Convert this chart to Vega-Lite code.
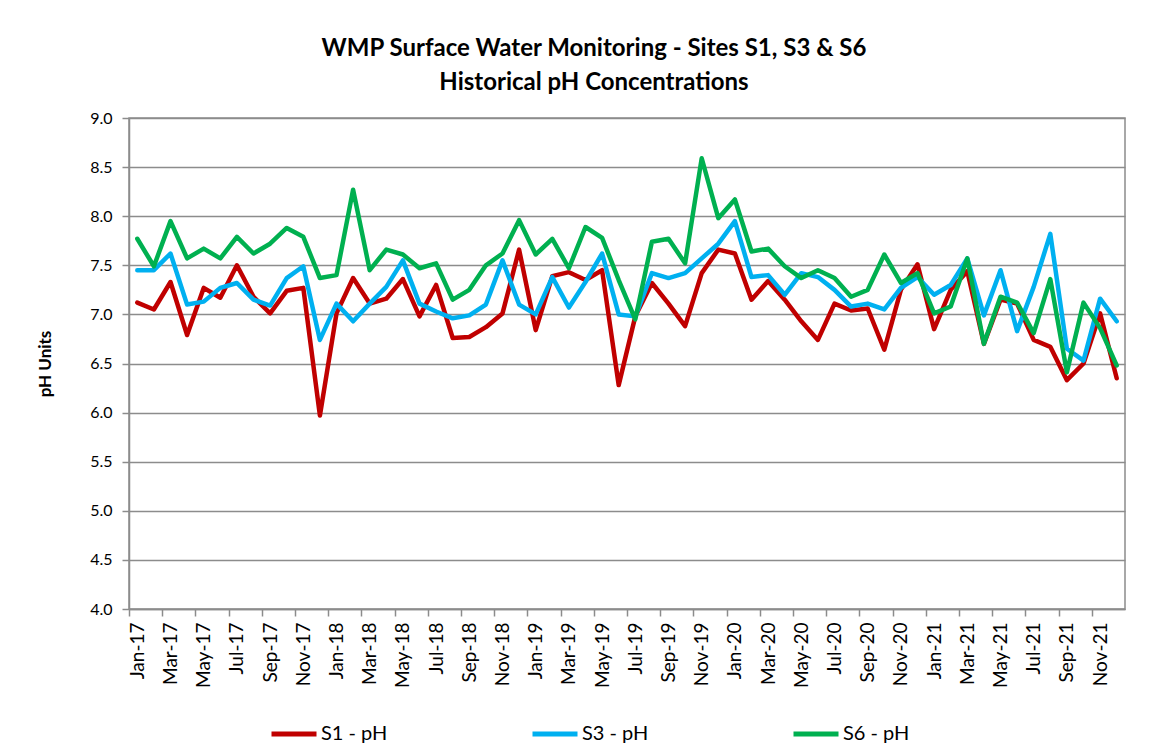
{
  "$schema": "https://vega.github.io/schema/vega-lite/v6.json",
  "autosize": "none",
  "width": 996,
  "height": 491,
  "padding": {"left": 129, "top": 118, "right": 51, "bottom": 144},
  "background": "white",
  "title": {
    "text": ["WMP Surface Water Monitoring - Sites S1, S3 & S6", "Historical pH Concentrations"],
    "font": "Lato", "fontSize": 24, "fontWeight": "bold", "color": "black",
    "anchor": "middle", "dx": -33, "offset": 15, "lineHeight": 34
  },
  "data": {"values": [
    {"m": "Jan-17", "S1": 7.12, "S3": 7.45, "S6": 7.77},
    {"m": "Feb-17", "S1": 7.05, "S3": 7.45, "S6": 7.49},
    {"m": "Mar-17", "S1": 7.33, "S3": 7.62, "S6": 7.95},
    {"m": "Apr-17", "S1": 6.79, "S3": 7.10, "S6": 7.57},
    {"m": "May-17", "S1": 7.27, "S3": 7.13, "S6": 7.67},
    {"m": "Jun-17", "S1": 7.17, "S3": 7.27, "S6": 7.57},
    {"m": "Jul-17", "S1": 7.50, "S3": 7.32, "S6": 7.79},
    {"m": "Aug-17", "S1": 7.18, "S3": 7.15, "S6": 7.62},
    {"m": "Sep-17", "S1": 7.01, "S3": 7.09, "S6": 7.72},
    {"m": "Oct-17", "S1": 7.24, "S3": 7.37, "S6": 7.88},
    {"m": "Nov-17", "S1": 7.27, "S3": 7.49, "S6": 7.79},
    {"m": "Dec-17", "S1": 5.97, "S3": 6.74, "S6": 7.37},
    {"m": "Jan-18", "S1": 7.01, "S3": 7.11, "S6": 7.40},
    {"m": "Feb-18", "S1": 7.37, "S3": 6.93, "S6": 8.27},
    {"m": "Mar-18", "S1": 7.11, "S3": 7.11, "S6": 7.45},
    {"m": "Apr-18", "S1": 7.16, "S3": 7.28, "S6": 7.66},
    {"m": "May-18", "S1": 7.36, "S3": 7.55, "S6": 7.61},
    {"m": "Jun-18", "S1": 6.98, "S3": 7.11, "S6": 7.47},
    {"m": "Jul-18", "S1": 7.30, "S3": 7.03, "S6": 7.52},
    {"m": "Aug-18", "S1": 6.76, "S3": 6.96, "S6": 7.15},
    {"m": "Sep-18", "S1": 6.77, "S3": 6.99, "S6": 7.25},
    {"m": "Oct-18", "S1": 6.87, "S3": 7.10, "S6": 7.50},
    {"m": "Nov-18", "S1": 7.01, "S3": 7.55, "S6": 7.62},
    {"m": "Dec-18", "S1": 7.66, "S3": 7.10, "S6": 7.96},
    {"m": "Jan-19", "S1": 6.84, "S3": 7.00, "S6": 7.61},
    {"m": "Feb-19", "S1": 7.39, "S3": 7.38, "S6": 7.77},
    {"m": "Mar-19", "S1": 7.43, "S3": 7.07, "S6": 7.47},
    {"m": "Apr-19", "S1": 7.35, "S3": 7.33, "S6": 7.89},
    {"m": "May-19", "S1": 7.45, "S3": 7.62, "S6": 7.78},
    {"m": "Jun-19", "S1": 6.28, "S3": 7.00, "S6": 7.35},
    {"m": "Jul-19", "S1": 6.98, "S3": 6.98, "S6": 6.95},
    {"m": "Aug-19", "S1": 7.32, "S3": 7.42, "S6": 7.74},
    {"m": "Sep-19", "S1": 7.11, "S3": 7.37, "S6": 7.77},
    {"m": "Oct-19", "S1": 6.88, "S3": 7.42, "S6": 7.52},
    {"m": "Nov-19", "S1": 7.42, "S3": 7.57, "S6": 8.59},
    {"m": "Dec-19", "S1": 7.66, "S3": 7.72, "S6": 7.98},
    {"m": "Jan-20", "S1": 7.62, "S3": 7.95, "S6": 8.17},
    {"m": "Feb-20", "S1": 7.15, "S3": 7.38, "S6": 7.64},
    {"m": "Mar-20", "S1": 7.34, "S3": 7.40, "S6": 7.67},
    {"m": "Apr-20", "S1": 7.15, "S3": 7.20, "S6": 7.49},
    {"m": "May-20", "S1": 6.93, "S3": 7.42, "S6": 7.37},
    {"m": "Jun-20", "S1": 6.74, "S3": 7.38, "S6": 7.45},
    {"m": "Jul-20", "S1": 7.11, "S3": 7.25, "S6": 7.37},
    {"m": "Aug-20", "S1": 7.04, "S3": 7.08, "S6": 7.18},
    {"m": "Sep-20", "S1": 7.06, "S3": 7.11, "S6": 7.25},
    {"m": "Oct-20", "S1": 6.64, "S3": 7.05, "S6": 7.61},
    {"m": "Nov-20", "S1": 7.25, "S3": 7.27, "S6": 7.32},
    {"m": "Dec-20", "S1": 7.51, "S3": 7.38, "S6": 7.42},
    {"m": "Jan-21", "S1": 6.85, "S3": 7.20, "S6": 7.01},
    {"m": "Feb-21", "S1": 7.25, "S3": 7.30, "S6": 7.08},
    {"m": "Mar-21", "S1": 7.44, "S3": 7.57, "S6": 7.57},
    {"m": "Apr-21", "S1": 6.70, "S3": 6.99, "S6": 6.70},
    {"m": "May-21", "S1": 7.15, "S3": 7.45, "S6": 7.18},
    {"m": "Jun-21", "S1": 7.11, "S3": 6.83, "S6": 7.12},
    {"m": "Jul-21", "S1": 6.74, "S3": 7.28, "S6": 6.81},
    {"m": "Aug-21", "S1": 6.67, "S3": 7.82, "S6": 7.36},
    {"m": "Sep-21", "S1": 6.33, "S3": 6.65, "S6": 6.41},
    {"m": "Oct-21", "S1": 6.50, "S3": 6.53, "S6": 7.12},
    {"m": "Nov-21", "S1": 7.01, "S3": 7.16, "S6": 6.86},
    {"m": "Dec-21", "S1": 6.35, "S3": 6.93, "S6": 6.48}
  ]},
  "transform": [{"fold": ["S1", "S3", "S6"], "as": ["site", "ph"]}],
  "mark": {"type": "line", "strokeWidth": 4.5, "strokeJoin": "round", "strokeCap": "round"},
  "encoding": {
    "x": {
      "field": "m", "type": "ordinal", "sort": null,
      "scale": {"type": "point", "padding": 0.5},
      "axis": {
        "values": ["Jan-17","Mar-17","May-17","Jul-17","Sep-17","Nov-17","Jan-18","Mar-18","May-18","Jul-18","Sep-18","Nov-18","Jan-19","Mar-19","May-19","Jul-19","Sep-19","Nov-19","Jan-20","Mar-20","May-20","Jul-20","Sep-20","Nov-20","Jan-21","Mar-21","May-21","Jul-21","Sep-21","Nov-21"],
        "title": null, "labelAngle": -90, "labelFont": "Lato", "labelFontSize": 19, "labelColor": "black",
        "tickSize": 7, "tickColor": "#8c8c8c", "tickWidth": 1.5, "tickOffset": -8.3, "labelOffset": 8.3,
        "domainColor": "#8c8c8c", "domainWidth": 1.5, "grid": false, "labelPadding": 6
      }
    },
    "y": {
      "field": "ph", "type": "quantitative",
      "scale": {"domain": [4, 9], "nice": false, "zero": false},
      "axis": {
        "values": [4, 4.5, 5, 5.5, 6, 6.5, 7, 7.5, 8, 8.5, 9], "format": ".1f",
        "title": "pH Units", "titleFont": "Lato", "titleFontSize": 17, "titleFontWeight": "bold", "titleColor": "black",
        "titleX": -84, "titleY": 245.5, "titleAngle": -90, "titleAlign": "center", "titleBaseline": "middle",
        "labelFont": "Lato", "labelFontSize": 16, "labelColor": "black", "labelPadding": 10,
        "tickSize": 7, "tickColor": "#8c8c8c", "tickWidth": 1.5,
        "domainColor": "#8c8c8c", "domainWidth": 1.5,
        "grid": true, "gridColor": "#8c8c8c", "gridWidth": 1.5
      }
    },
    "color": {
      "field": "site", "type": "nominal",
      "scale": {"domain": ["S1", "S3", "S6"], "range": ["#C00000", "#00B0F0", "#00B050"]},
      "legend": {
        "orient": "none", "legendX": 140, "legendY": 591, "direction": "horizontal", "title": null,
        "symbolType": "stroke", "symbolSize": 2025, "symbolStrokeWidth": 5,
        "labelFont": "Lato", "labelFontSize": 20, "labelColor": "black", "labelOffset": 2,
        "labelExpr": "datum.label + ' - pH'", "columnPadding": 134
      }
    }
  },
  "config": {"view": {"stroke": "#8c8c8c", "strokeWidth": 1.5}}
}
